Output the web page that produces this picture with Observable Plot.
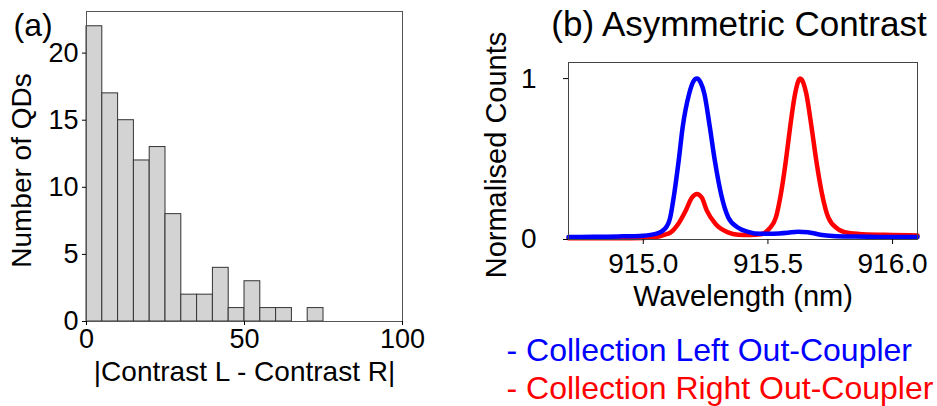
<!DOCTYPE html>
<html>
<head>
<meta charset="utf-8">
<script src="https://cdn.jsdelivr.net/npm/d3@7"></script>
<script src="https://cdn.jsdelivr.net/npm/@observablehq/plot@0.6"></script>
<style>
  html, body { margin: 0; padding: 0; background: #fff; }
  #wrap { position: relative; width: 937px; height: 406px; overflow: hidden; font-family: "Liberation Sans", Arial, sans-serif; }
  #wrap svg { position: absolute; top: 0; }
</style>
</head>
<body>
<div id="wrap"></div>
<script>
// ---------- Panel (a): histogram ----------
const binLower = [0, 5, 10, 15, 20, 25, 30, 35, 40, 45, 50, 55, 60, 65, 70];
const binWidth = 5;
const qdCounts = [22, 17, 15, 12, 13, 8, 2, 2, 4, 1, 3, 1, 1, 0, 1];
const histXTicks = [0, 50, 100];
const histYTicks = [0, 5, 10, 15, 20];

// ---------- Panel (b): spectra ----------
const leftWl = [914.70, 914.80, 914.90, 915.00, 915.05, 915.087, 915.108, 915.124, 915.142, 915.158, 915.184, 915.200, 915.215, 915.230, 915.245, 915.267, 915.287, 915.312, 915.341, 915.379, 915.42, 915.47, 915.52, 915.58, 915.62, 915.66, 915.71, 915.76, 915.85, 915.95, 916.10];
const leftCounts = [0.015, 0.017, 0.019, 0.024, 0.035, 0.067, 0.137, 0.283, 0.49, 0.698, 0.906, 0.98, 1.0, 0.975, 0.906, 0.698, 0.49, 0.283, 0.137, 0.075, 0.048, 0.035, 0.036, 0.042, 0.048, 0.045, 0.030, 0.022, 0.018, 0.016, 0.015];
const rightWl = [914.70, 914.90, 915.00, 915.05, 915.087, 915.11, 915.14, 915.17, 915.195, 915.215, 915.235, 915.255, 915.29, 915.34, 915.38, 915.43, 915.47, 915.49, 915.505, 915.532, 915.552, 915.572, 915.589, 915.609, 915.629, 915.643, 915.654, 915.675, 915.694, 915.717, 915.742, 915.779, 915.82, 915.88, 916.00, 916.10];
const rightCounts = [0.008, 0.008, 0.010, 0.015, 0.030, 0.044, 0.096, 0.179, 0.26, 0.283, 0.26, 0.179, 0.096, 0.044, 0.030, 0.028, 0.032, 0.045, 0.067, 0.137, 0.283, 0.49, 0.698, 0.906, 1.0, 0.97, 0.906, 0.698, 0.49, 0.283, 0.137, 0.067, 0.042, 0.033, 0.028, 0.025];
const specXTicks = [915.0, 915.5, 916.0];
const specYTicks = [0, 1];
const seriesNames = ["- Collection Left Out-Coupler", "- Collection Right Out-Coupler"];
const seriesColors = ["#0000ff", "#ff0000"];

const FONT = "'Liberation Sans', Arial, sans-serif";

const histData = binLower.map((b, i) => ({x1: b, x2: b + binWidth, y: qdCounts[i]}));

const plotA = Plot.plot({
  width: 420, height: 406,
  marginLeft: 86, marginRight: 18, marginTop: 11, marginBottom: 85,
  style: {fontFamily: FONT, fontSize: "27px", color: "#000", background: "transparent", overflow: "visible"},
  x: {domain: [0, 100]},
  y: {domain: [0, 23.1]},
  marks: [
    Plot.rectY(histData, {x1: "x1", x2: "x2", y: "y", fill: "#d3d3d3", stroke: "#333", strokeWidth: 1, inset: 0}),
    Plot.frame({stroke: "#555", strokeWidth: 1}),
    Plot.axisX({ticks: histXTicks, tickSize: 4, tickPadding: 3, label: null, fontSize: 27}),
    Plot.axisY({ticks: histYTicks, tickSize: 4, tickPadding: 4, label: null, fontSize: 27}),
    Plot.text(["Number of QDs"], {frameAnchor: "left", text: d => d, rotate: -90, dx: -64, dy: 4, fontSize: 28, lineAnchor: "middle", textAnchor: "middle"}),
    Plot.text(["|Contrast L - Contrast R|"], {frameAnchor: "bottom", text: d => d, dy: 59, fontSize: 28, lineAnchor: "bottom", textAnchor: "middle"}),
    Plot.text(["(a)"], {frameAnchor: "top-left", text: d => d, dx: -73, dy: 24, fontSize: 32, lineAnchor: "bottom", textAnchor: "start"})
  ]
});
plotA.style.left = "0px";

const specData = [
  ...rightWl.map((w, i) => ({wl: w, v: rightCounts[i], s: seriesNames[1]})),
  ...leftWl.map((w, i) => ({wl: w, v: leftCounts[i], s: seriesNames[0]}))
];

const plotB = Plot.plot({
  width: 467, height: 406,
  marginLeft: 98, marginRight: 20, marginTop: 62, marginBottom: 167,
  style: {fontFamily: FONT, fontSize: "28px", color: "#000", background: "transparent", overflow: "visible"},
  x: {domain: [914.7, 916.1]},
  y: {domain: [0, 1.1]},
  color: {domain: seriesNames, range: seriesColors},
  marks: [
    Plot.line(specData.filter(d => d.s === seriesNames[1]), {x: "wl", y: "v", stroke: "s", strokeWidth: 4.5, curve: "monotone-x"}),
    Plot.line(specData.filter(d => d.s === seriesNames[0]), {x: "wl", y: "v", stroke: "s", strokeWidth: 4.5, curve: "monotone-x"}),
    Plot.frame({stroke: "#444", strokeWidth: 1}),
    Plot.axisX({ticks: specXTicks, tickFormat: d3.format(".1f"), tickSize: 5, tickPadding: 9, label: null, fontSize: 28}),
    Plot.axisY({ticks: specYTicks, tickFormat: d3.format("d"), tickSize: 5, tickPadding: 27, label: null, fontSize: 28}),
    Plot.text(["Normalised Counts"], {frameAnchor: "left", text: d => d, rotate: -90, dx: -72, dy: 4, fontSize: 29, lineAnchor: "middle", textAnchor: "middle"}),
    Plot.text(["Wavelength (nm)"], {frameAnchor: "bottom", text: d => d, dy: 66, fontSize: 29, lineAnchor: "bottom", textAnchor: "middle"}),
    Plot.text(["(b) Asymmetric Contrast"], {frameAnchor: "top", text: d => d, dx: -4, dy: -27, fontSize: 35, lineAnchor: "bottom", textAnchor: "middle"}),
    Plot.text([seriesNames[0]], {frameAnchor: "bottom-left", text: d => d, dx: -62, dy: 121, fontSize: 32, lineAnchor: "bottom", textAnchor: "start", fill: seriesColors[0]}),
    Plot.text([seriesNames[1]], {frameAnchor: "bottom-left", text: d => d, dx: -62, dy: 159, fontSize: 32, lineAnchor: "bottom", textAnchor: "start", fill: seriesColors[1]})
  ]
});
plotB.style.left = "470px";

const wrap = document.getElementById("wrap");
wrap.appendChild(plotA);
wrap.appendChild(plotB);
</script>
</body>
</html>
